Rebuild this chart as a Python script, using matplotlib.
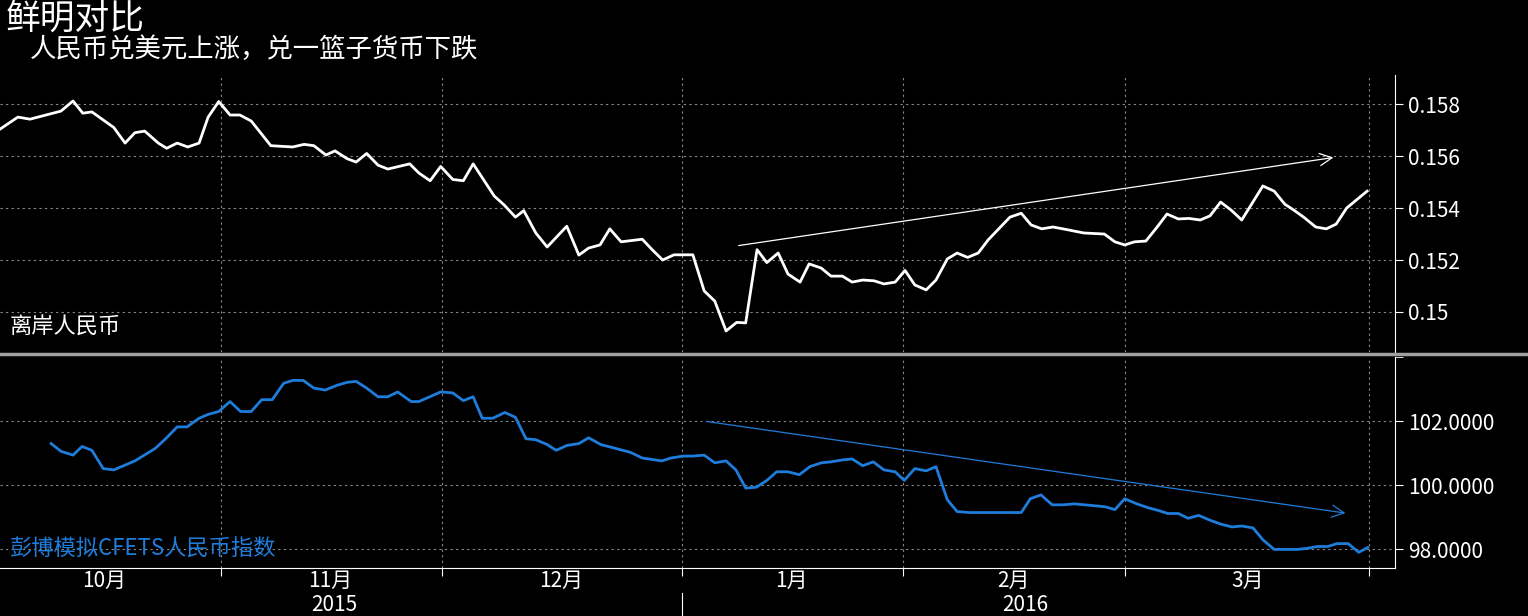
import numpy as np
import matplotlib
matplotlib.use("Agg")
import matplotlib.pyplot as plt

plt.rcParams['font.family'] = ['Noto Sans CJK SC', 'DejaVu Sans']

# x = days since 2015-10-01
cnh_days = [1.7, 4.1, 5.7, 9.8, 11.4, 12.7, 13.9, 16.8, 18.3, 19.6, 20.9, 22.7, 23.8, 25.2, 26.6, 28.1,
            29.3, 30.7, 32.2, 33.5, 35.0, 37.6, 40.5, 42.0, 43.3, 44.9, 46.1, 47.7, 48.9, 50.3, 51.8, 53.1,
            56.0, 57.2, 58.7, 60.1, 61.7, 63.1, 64.4, 67.2, 68.5, 70.0, 71.1, 72.7, 74.2, 76.8, 78.4, 79.7,
            81.2, 82.5, 84.0, 86.8, 88.1, 89.5, 91.0, 93.5, 95.0, 96.4, 97.9, 99.3, 100.5, 102.0, 103.3,
            104.8, 106.1, 107.7, 108.9, 110.5, 111.8, 113.3, 114.6, 116.0, 117.5, 118.8, 120.3, 121.6,
            122.9, 124.4, 125.7, 127.2, 128.5, 129.9, 131.3, 132.6, 135.5, 137.0, 138.3, 139.7, 141.2,
            142.5, 145.3, 148.0, 149.4, 150.7, 152.0, 153.5, 155.0, 156.3, 157.8, 159.2, 160.7, 162.0,
            163.4, 164.8, 166.2, 169.0, 170.5, 171.9, 173.1, 174.4, 176.0, 177.4, 178.7, 180.1, 182.8]
cnh = [0.15703, 0.1575, 0.15742, 0.15773, 0.15812, 0.15765, 0.1577, 0.1571, 0.1565, 0.1569, 0.15696,
       0.1565, 0.1563, 0.1565, 0.15635, 0.1565, 0.1575, 0.1581, 0.15758, 0.15758, 0.15735, 0.1564,
       0.15635, 0.15645, 0.1564, 0.15604, 0.1562, 0.1559, 0.15577, 0.1561, 0.15565, 0.1555, 0.1557,
       0.15535, 0.15505, 0.1556, 0.1551, 0.15505, 0.1557, 0.15446, 0.15412, 0.15365, 0.1539, 0.15304,
       0.1525, 0.1533, 0.15219, 0.15246, 0.15258, 0.1532, 0.1527, 0.1528, 0.1524, 0.1520, 0.1522,
       0.1522, 0.15081, 0.15042, 0.14927, 0.1496, 0.14958, 0.1524, 0.1519, 0.15227, 0.15146, 0.15115,
       0.15185, 0.15169, 0.15138, 0.15138, 0.15115, 0.15123, 0.1512, 0.15108, 0.15115, 0.1516, 0.15104,
       0.15085, 0.15123, 0.15204, 0.15227, 0.1521, 0.15227, 0.15277, 0.15365, 0.1538, 0.15335, 0.1532,
       0.15327, 0.1532, 0.15304, 0.153, 0.1527, 0.15258, 0.1527, 0.15273, 0.15327, 0.15377, 0.15358,
       0.1536, 0.15354, 0.1537, 0.15423, 0.15392, 0.15354, 0.15485, 0.15465, 0.15415, 0.15392, 0.15365,
       0.15327, 0.1532, 0.15338, 0.154, 0.15465]

cfets_days = [8.5, 9.8, 11.4, 12.6, 13.9, 15.4, 16.8, 19.6, 22.3, 23.8, 25.2, 26.5, 28.1, 29.3, 30.7, 32.2,
              33.6, 35.0, 36.4, 37.8, 39.3, 40.5, 41.9, 43.3, 44.8, 46.4, 47.7, 48.9, 50.3, 51.8, 53.1,
              54.4, 56.2, 57.2, 60.1, 61.7, 63.1, 64.4, 65.6, 67.0, 68.6, 70.0, 71.4, 72.7, 74.2, 75.4,
              76.8, 78.4, 79.7, 81.3, 85.2, 86.8, 89.4, 90.6, 92.2, 93.5, 95.0, 96.4, 97.9, 99.2, 100.5,
              101.9, 103.3, 104.6, 106.1, 107.6, 109.0, 110.5, 111.8, 113.3, 114.6, 116.0, 117.4, 118.8,
              120.3, 121.5, 122.9, 124.4, 125.7, 127.2, 128.5, 130.1, 137.0, 138.2, 139.6, 141.1, 142.5,
              144.0, 145.4, 148.1, 149.4, 150.7, 152.3, 153.8, 155.2, 156.4, 157.8, 159.1, 160.5, 162.0,
              163.4, 164.9, 166.2, 167.7, 169.0, 170.5, 171.9, 173.5, 174.8, 176.2, 177.6, 178.8, 180.3,
              181.7, 182.9]
cfets = [101.30, 101.06, 100.94, 101.21, 101.09, 100.52, 100.48, 100.76, 101.15, 101.48, 101.82, 101.82,
         102.09, 102.21, 102.30, 102.61, 102.30, 102.30, 102.67, 102.67, 103.18, 103.27, 103.27, 103.03,
         102.97, 103.12, 103.21, 103.24, 103.03, 102.76, 102.76, 102.91, 102.61, 102.61, 102.91, 102.88,
         102.64, 102.76, 102.09, 102.09, 102.27, 102.12, 101.45, 101.42, 101.27, 101.09, 101.24, 101.30,
         101.48, 101.27, 101.03, 100.85, 100.76, 100.85, 100.91, 100.91, 100.94, 100.70, 100.76, 100.48,
         99.91, 99.94, 100.15, 100.42, 100.42, 100.33, 100.58, 100.70, 100.73, 100.79, 100.82, 100.61,
         100.73, 100.48, 100.42, 100.15, 100.52, 100.45, 100.58, 99.55, 99.18, 99.15, 99.15, 99.58,
         99.70, 99.39, 99.39, 99.42, 99.39, 99.33, 99.24, 99.58, 99.42, 99.30, 99.21, 99.12, 99.12,
         98.97, 99.06, 98.91, 98.79, 98.70, 98.73, 98.67, 98.30, 98.00, 98.00, 98.00, 98.03, 98.09,
         98.09, 98.18, 98.18, 97.91, 98.06]

month_starts = [31, 60.3, 92, 121.3, 150.7, 183]
month_labels = ['10月', '11月', '12月', '1月', '2月', '3月']
month_label_pos = [15.5, 45.5, 76, 106.5, 136, 167]
year_labels = ['2015', '2016']
year_label_pos = [46, 137.5]

top_arrow = [(99.2, 0.15254), (178.7, 0.15596)]
bot_arrow = [(95.0, 102.0), (180.3, 99.12)]

BLUE = '#1e7ddb'
GRID = '#8a8a8a'
W, H = 1528, 616
XMIN, XMAX = 1.73, 186.5

fig = plt.figure(figsize=(W / 100, H / 100), dpi=100, facecolor='black')
ax1 = fig.add_axes([0, 1 - 352 / H, 1395 / W, 277 / H], facecolor='black')
ax2 = fig.add_axes([0, 1 - 568 / H, 1395 / W, 211 / H], facecolor='black')

for ax in (ax1, ax2):
    ax.set_xlim(XMIN, XMAX)
    for s in ('top', 'left', 'bottom'):
        ax.spines[s].set_visible(False)
    ax.spines['right'].set_color('white')
    ax.yaxis.tick_right()
    ax.tick_params(axis='y', colors='white', labelsize=15, length=6, direction='out')
    ax.set_xticks(month_starts)
    ax.grid(True, color=GRID, linestyle=(0, (2, 3)), linewidth=0.8)
    ax.set_axisbelow(True)

ax1.plot(cnh_days, cnh, color='white', lw=2)
ax1.set_ylim(0.14846, 0.15912)
ax1.set_yticks([0.15, 0.152, 0.154, 0.156, 0.158])
ax1.set_yticklabels(['0.15', '0.152', '0.154', '0.156', '0.158'])
ax1.tick_params(axis='x', length=0, labelbottom=False)
ax1.annotate('', xy=top_arrow[1], xytext=top_arrow[0],
             arrowprops=dict(arrowstyle='->', color='white', lw=0.9, mutation_scale=22))
ax1.text(10 / 1395, 0.07, '离岸人民币', transform=ax1.transAxes, color='white', fontsize=16)

ax2.plot(cfets_days, cfets, color=BLUE, lw=2)
ax2.set_ylim(97.42, 103.82)
ax2.set_yticks([98, 100, 102])
ax2.set_yticklabels(['98.0000', '100.0000', '102.0000'])
ax2.set_yticks([104], minor=True)
ax2.tick_params(axis='y', which='minor', length=6, colors='white')
ax2.spines['bottom'].set_visible(True)
ax2.spines['bottom'].set_color('white')
ax2.tick_params(axis='x', colors='white', length=6, direction='out', labelbottom=False)
ax2.annotate('', xy=bot_arrow[1], xytext=bot_arrow[0],
             arrowprops=dict(arrowstyle='->', color=BLUE, lw=0.9, mutation_scale=22))
ax2.text(10 / 1395, 0.06, '彭博模拟CFETS人民币指数', transform=ax2.transAxes, color=BLUE, fontsize=16)

xt = ax2.get_xaxis_transform()
for pos, lab in zip(month_label_pos, month_labels):
    ax2.text(pos, -0.01, lab, transform=xt, color='white', fontsize=15, ha='center', va='top')
for pos, lab in zip(year_label_pos, year_labels):
    ax2.text(pos, -0.125, lab, transform=xt, color='white', fontsize=15, ha='center', va='top')
ax2.plot([92, 92], [-0.12, -0.26], transform=xt, color='white', lw=0.8, clip_on=False)

fig.add_artist(plt.Line2D([0, 1], [1 - 354 / H] * 2, color='#a0a0a0', lw=2.5))
fig.text(6 / W, 1 - 2 / H, '鲜明对比', color='white', fontsize=25, va='top')
fig.text(30 / W, 1 - 36 / H, '人民币兑美元上涨，兑一篮子货币下跌', color='white', fontsize=19, va='top')

fig.savefig('out.png', dpi=100, facecolor='black')
